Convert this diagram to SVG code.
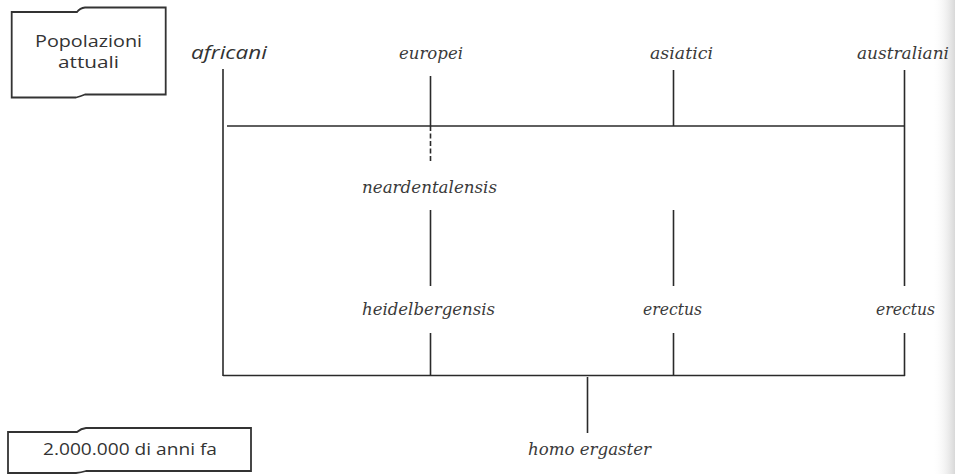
<svg xmlns="http://www.w3.org/2000/svg" width="955" height="474" viewBox="0 0 955 474">
  <defs>
    <linearGradient id="edge" x1="0" y1="0" x2="1" y2="0">
      <stop offset="0" stop-color="#ffffff" stop-opacity="0"/>
      <stop offset="1" stop-color="#d8d8d8" stop-opacity="1"/>
    </linearGradient>
  </defs>
  <style>
    .ln { stroke: #2a2a2a; stroke-width: 1.6; fill: none; stroke-linecap: butt; }
    .dash { stroke-dasharray: 5 2.5; }
    .box { stroke: #333; stroke-width: 1.8; fill: #fff; }
    .sp { font-family: 'DejaVu Serif', 'Liberation Serif', serif; font-style: italic; font-size: 17.5px; fill: #3a3a3a; }
    .sans { font-family: 'Open Sans', 'Liberation Sans', sans-serif; font-size: 17px; fill: #333; }
    .sansi { font-family: 'Open Sans', 'Liberation Sans', sans-serif; font-style: italic; font-size: 18px; fill: #333; }
  </style>
  <rect x="0" y="0" width="955" height="474" fill="#ffffff"/>
  <rect x="932" y="0" width="23" height="474" fill="url(#edge)"/>

  <g id="connectors">
    <line class="ln" x1="223" y1="69" x2="223" y2="376"/>
    <line class="ln" x1="227" y1="126" x2="905" y2="126"/>
    <line class="ln" x1="430.5" y1="76" x2="430.5" y2="126"/>
    <line class="ln dash" x1="430.5" y1="126" x2="430.5" y2="163"/>
    <line class="ln" x1="673.5" y1="70" x2="673.5" y2="126"/>
    <line class="ln" x1="904.5" y1="70" x2="904.5" y2="286"/>
    <line class="ln" x1="430.5" y1="210" x2="430.5" y2="286"/>
    <line class="ln" x1="673.5" y1="210" x2="673.5" y2="286"/>
    <line class="ln" x1="430.5" y1="333" x2="430.5" y2="376"/>
    <line class="ln" x1="673.5" y1="333" x2="673.5" y2="376"/>
    <line class="ln" x1="904.5" y1="333" x2="904.5" y2="376"/>
    <line class="ln" x1="223" y1="375.5" x2="905" y2="375.5"/>
    <line class="ln" x1="587.5" y1="377" x2="587.5" y2="433"/>
  </g>

  <g id="popolazioni-attuali">
    <path class="box" d="M11.7,12 L77,12 Q80,8 85,7.5 L165.7,7.5 L165.7,94.5 L85,94.5 Q80,96.5 76,97.5 L11.7,97.5 Z"/>
    <text class="sans" x="35" y="47" textLength="107" lengthAdjust="spacingAndGlyphs">Popolazioni</text>
    <text class="sans" x="58" y="68" textLength="61" lengthAdjust="spacingAndGlyphs">attuali</text>
  </g>

  <g id="africani">
    <text class="sansi" x="191" y="59" textLength="76" lengthAdjust="spacingAndGlyphs">africani</text>
  </g>
  <g id="europei">
    <text class="sp" x="399" y="59" textLength="64" lengthAdjust="spacingAndGlyphs">europei</text>
  </g>
  <g id="asiatici">
    <text class="sp" x="650" y="59" textLength="63" lengthAdjust="spacingAndGlyphs">asiatici</text>
  </g>
  <g id="australiani">
    <text class="sp" x="857" y="59" textLength="92" lengthAdjust="spacingAndGlyphs">australiani</text>
  </g>
  <g id="neardentalensis">
    <text class="sp" x="362" y="193" textLength="135" lengthAdjust="spacingAndGlyphs">neardentalensis</text>
  </g>
  <g id="heidelbergensis">
    <text class="sp" x="362" y="315" textLength="133" lengthAdjust="spacingAndGlyphs">heidelbergensis</text>
  </g>
  <g id="erectus-asia">
    <text class="sp" x="643" y="315" textLength="59" lengthAdjust="spacingAndGlyphs">erectus</text>
  </g>
  <g id="erectus-australia">
    <text class="sp" x="876" y="315" textLength="59" lengthAdjust="spacingAndGlyphs">erectus</text>
  </g>
  <g id="homo-ergaster">
    <text class="sp" x="528" y="455" textLength="123" lengthAdjust="spacingAndGlyphs">homo ergaster</text>
  </g>

  <g id="time-label">
    <path class="box" d="M8,432 L77,432 Q81,428.5 86,428 L251,428 L251,471 L86,471 Q81,472.5 76,473 L8,473 Z"/>
    <text class="sans" x="43" y="455" textLength="174" lengthAdjust="spacingAndGlyphs">2.000.000 di anni fa</text>
  </g>
</svg>
